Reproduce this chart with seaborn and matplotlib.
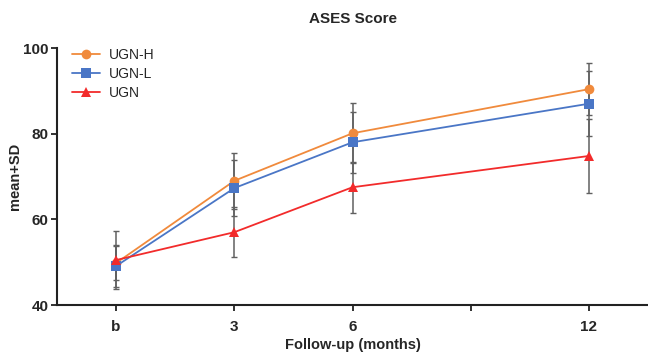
import numpy as np
import pandas as pd
import seaborn as sns
from matplotlib import pyplot as plt

# follow-up time points (b = baseline)
months = [0, 3, 6, 12]
tick_pos = [0, 3, 6, 9, 12]
tick_labels = ['b', '3', '6', '', '12']

groups = ['UGN-H', 'UGN-L', 'UGN']
ugn_h_mean = [49.8, 69.0, 80.1, 90.4]
ugn_h_sd = [3.9, 6.6, 7.0, 6.1]
ugn_l_mean = [49.1, 67.3, 78.0, 87.0]
ugn_l_sd = [4.9, 6.6, 7.1, 7.6]
ugn_mean = [50.5, 57.0, 67.5, 74.8]
ugn_sd = [6.7, 5.9, 5.9, 8.7]

colors = {'UGN-H': '#F08A3C', 'UGN-L': '#4A76C6', 'UGN': '#F22B2B'}
markers = {'UGN-H': 'o', 'UGN-L': 's', 'UGN': '^'}

df = pd.DataFrame({
    'month': months * 3,
    'group': np.repeat(groups, len(months)),
    'mean': ugn_h_mean + ugn_l_mean + ugn_mean,
    'sd': ugn_h_sd + ugn_l_sd + ugn_sd,
})

sns.set_style("ticks")
plt.rcParams['font.family'] = ['Liberation Sans', 'DejaVu Sans']

fig = plt.figure(figsize=(6.48, 3.52), dpi=100)
ax = fig.add_axes([0.088, 0.1335, 0.912, 0.73])

for g in groups:
    d = df[df['group'] == g]
    ax.errorbar(d['month'], d['mean'], yerr=d['sd'], fmt='none',
                ecolor='#606060', elinewidth=1.1, capsize=2.5, capthick=1.0, zorder=1)

sns.lineplot(data=df, x='month', y='mean', hue='group', style='group',
             palette=colors, markers=markers, dashes=False, markersize=7,
             markeredgewidth=0, linewidth=1.3, ax=ax, zorder=3)

ax.set_xlim(-1.5, 13.5)
ax.set_ylim(40, 100)
ax.set_xticks(tick_pos)
ax.set_xticklabels(tick_labels)
ax.set_yticks([40, 60, 80, 100])
for lbl in ax.get_xticklabels() + ax.get_yticklabels():
    lbl.set_fontweight('bold')
    lbl.set_fontsize(11)
ax.tick_params(axis='both', width=1.3, length=4, color='#222222', pad=2)
ax.tick_params(axis='x', pad=7)

sns.despine(ax=ax)
for s in ['left', 'bottom']:
    ax.spines[s].set_linewidth(1.5)
    ax.spines[s].set_color('#222222')

ax.set_xlabel('Follow-up (months)', fontweight='bold', fontsize=10.5, labelpad=3)
ax.set_ylabel('mean+SD', fontweight='bold', fontsize=10.5, labelpad=1)
ax.set_title('ASES Score', fontweight='bold', fontsize=11, pad=18)

ax.legend(loc='upper left', bbox_to_anchor=(0.005, 1.05), frameon=False,
          fontsize=10, handlelength=2.0, handletextpad=0.6,
          labelspacing=0.38, title=None)

plt.savefig('out.png', dpi=100)
